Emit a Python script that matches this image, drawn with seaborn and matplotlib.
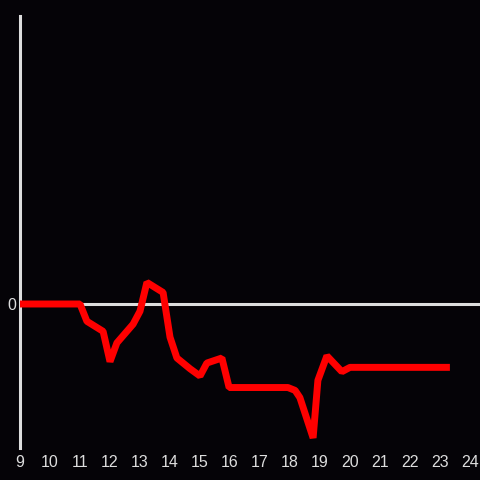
import pandas as pd
import matplotlib.pyplot as plt
import seaborn as sns

hours = [9.0, 11.0, 11.23, 11.77, 12.0, 12.23, 12.77, 13.0, 13.23, 13.77, 14.0, 14.23,
         14.67, 15.0, 15.23, 15.73, 15.97, 17.93, 18.17, 18.33, 18.77, 18.93, 19.23,
         19.73, 20.0, 23.33]
values = [0.0, 0.0, -0.12, -0.19, -0.40, -0.27, -0.14, -0.05, 0.15, 0.08, -0.23, -0.375,
          -0.45, -0.50, -0.41, -0.375, -0.58, -0.58, -0.60, -0.65, -0.93, -0.53, -0.36,
          -0.47, -0.44, -0.44]
x_ticks = list(range(9, 25))

df = pd.DataFrame({'hour': hours, 'value': values})

bg = '#050307'
fg = '#dddddd'
sns.set_style("dark", {'axes.facecolor': bg, 'figure.facecolor': bg})
plt.rcParams['font.family'] = ['Liberation Sans', 'DejaVu Sans']

fig = plt.figure(figsize=(4.8, 4.8), dpi=100)
ax = fig.add_axes([20 / 480, 32 / 480, 460 / 480, 432 / 480])
ax.set_facecolor(bg)

ax.axhline(0, color=fg, lw=2.2, zorder=1)
sns.lineplot(data=df, x='hour', y='value', color='#ff0000', lw=5, ax=ax, zorder=3,
             solid_capstyle='butt', solid_joinstyle='bevel')

ax.set_xlim(9, 9 + 460 / 30)
ax.set_ylim(-1, 2)
ax.set_xticks(x_ticks)
ax.set_yticks([0])
ax.tick_params(colors=fg, labelsize=11.5, length=0)
ax.tick_params(axis='x', pad=5)
ax.tick_params(axis='y', pad=3)
ax.set_xlabel('')
ax.set_ylabel('')
ax.grid(False)
for s in ['top', 'right', 'bottom']:
    ax.spines[s].set_visible(False)
ax.spines['left'].set_color(fg)
ax.spines['left'].set_linewidth(2.2)

fig.savefig('out.png', dpi=100, facecolor=bg)
